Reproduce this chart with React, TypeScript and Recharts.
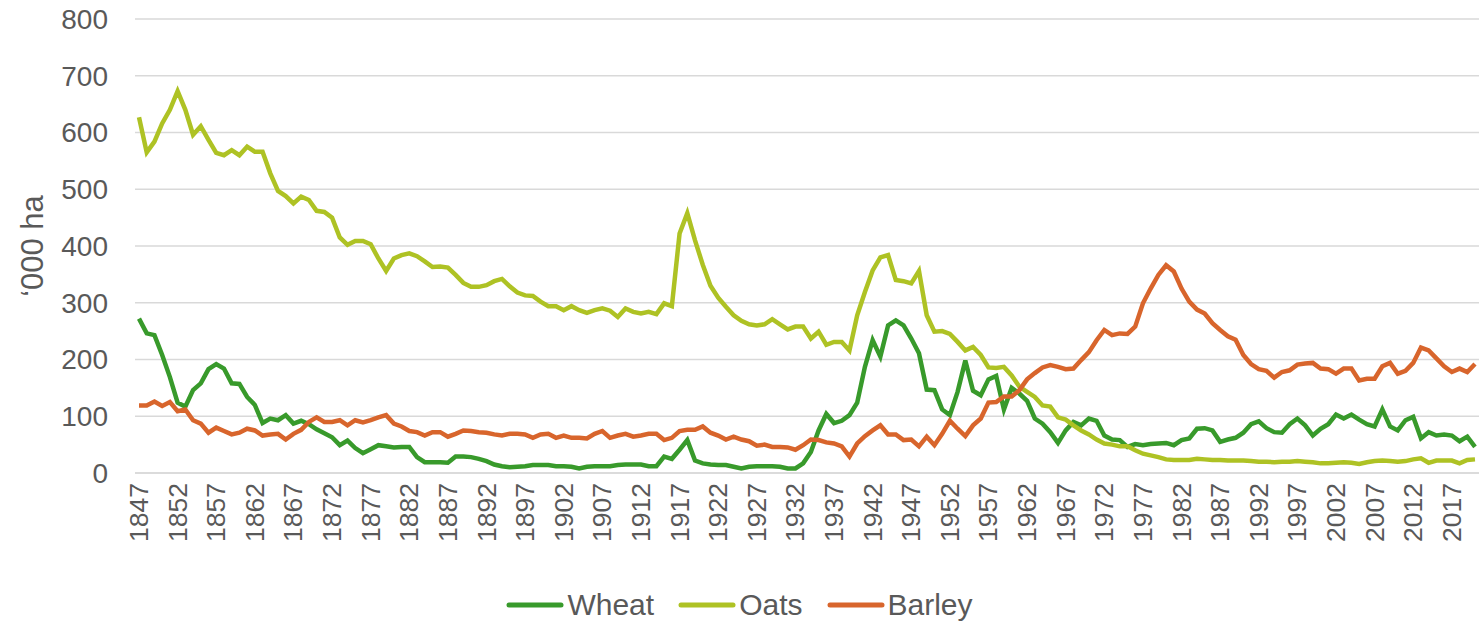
import React from 'react';
import { LineChart, Line, XAxis, YAxis, CartesianGrid } from 'recharts';

// Cropped area, '000 ha, one value per year from 1847 to 2020
const FIRST_YEAR = 1847;

const wheat = [
  272, 246, 243, 208, 169, 124, 117, 146, 158, 183, 192, 184, 158,
  157, 134, 120, 88, 96, 93, 102, 87, 92, 86,
  77, 70, 63, 49, 57, 44, 35, 42, 49, 47,
  45, 46, 46, 28, 19, 19, 19, 18, 29, 29,
  28, 25, 21, 15, 12, 10, 11, 12, 14, 14,
  14, 12, 12, 11, 8, 11, 12, 12, 12, 14,
  15, 15, 15, 12, 12, 29, 25, 41, 58, 22,
  17, 15, 14, 14, 11, 8, 11, 12, 12, 12,
  11, 8, 8, 17, 37, 75, 104, 88, 92, 102,
  124, 187, 234, 205, 260, 269, 260, 237, 211, 147,
  146, 112, 102, 143, 198, 145, 137, 165, 171, 112,
  150, 140, 127, 96, 87, 72, 53, 75, 90, 84,
  96, 92, 66, 59, 58, 46, 51, 49, 51, 52,
  53, 49, 58, 61, 78, 79, 75, 55, 59, 62,
  71, 86, 91, 79, 72, 71, 86, 96, 84, 66,
  78, 86, 103, 96, 103, 94, 86, 82, 112, 82,
  75, 93, 99, 61, 72, 66, 68, 66, 56, 64,
  46,
];

const oats = [
  627, 565, 584, 616, 640, 673, 640, 596, 611, 587, 564, 560, 569,
  560, 575, 566, 566, 528, 497, 488, 475, 487, 481,
  462, 460, 450, 415, 402, 409, 409, 403, 378, 356,
  378, 384, 387, 382, 373, 363, 364, 362, 349, 335,
  328, 328, 331, 338, 342, 329, 318, 313, 312, 302,
  294, 294, 287, 294, 287, 282, 287, 290, 286, 275,
  290, 284, 281, 284, 280, 299, 294, 422, 458, 410,
  367, 330, 309, 293, 278, 268, 262, 260, 262, 271,
  262, 253, 258, 258, 237, 249, 226, 231, 231, 216,
  278, 319, 357, 380, 384, 340, 338, 334, 356, 278,
  249, 250, 245, 231, 216, 222, 208, 186, 185, 187,
  172, 152, 143, 134, 119, 117, 98, 94, 84, 75,
  68, 59, 52, 50, 47, 47, 40, 34, 31, 28,
  24, 23, 23, 23, 25, 24, 23, 23, 22, 22,
  22, 21, 20, 20, 19, 20, 20, 21, 20, 19,
  17, 17, 18, 19, 18, 16, 19, 21, 22, 21,
  20, 21, 24, 26, 18, 22, 22, 22, 17, 23,
  24,
];

const barley = [
  119, 119, 126, 118, 125, 109, 112, 93, 87, 71, 80, 74, 68,
  71, 78, 75, 66, 68, 69, 59, 69, 76, 90,
  98, 90, 90, 93, 84, 93, 89, 93, 98, 102,
  87, 82, 74, 72, 66, 72, 72, 64, 69, 75,
  74, 72, 71, 68, 66, 69, 69, 68, 62, 68,
  69, 62, 66, 62, 62, 61, 69, 74, 62, 66,
  69, 64, 66, 69, 69, 58, 62, 74, 76, 76,
  82, 71, 66, 59, 64, 59, 56, 48, 50, 46,
  46, 45, 41, 49, 59, 58, 54, 52, 47, 29,
  52, 65, 75, 84, 68, 68, 58, 59, 47, 64,
  49, 69, 92, 78, 65, 84, 96, 124, 125, 135,
  135, 146, 165, 176, 186, 190, 187, 183, 184, 199,
  213, 234, 252, 243, 246, 245, 258, 299, 325, 349,
  366, 355, 325, 302, 288, 281, 264, 252, 241, 235,
  208, 192, 183, 180, 168, 178, 181, 191, 193, 194,
  184, 183, 175, 184, 184, 163, 166, 166, 188, 194,
  175, 180, 194, 221, 216, 202, 188, 178, 184, 178,
  192,
];

const years = wheat.map((_, i) => String(FIRST_YEAR + i));

const seriesList = [
  { key: 'Wheat', color: '#389a2b' },
  { key: 'Oats', color: '#aec224' },
  { key: 'Barley', color: '#d8652c' },
];

const yTicks = [0, 100, 200, 300, 400, 500, 600, 700, 800];

const chartData = years.map((year, i) => ({
  year,
  Wheat: wheat[i],
  Oats: oats[i],
  Barley: barley[i],
}));

const FONT = '"Liberation Sans", Arial, sans-serif';
const TEXT = '#595959';

const YearTick = (props: any) => {
  const { x, y, payload } = props;
  const ty = y + 10;
  return (
    <text
      x={x}
      y={ty}
      transform={`rotate(-90, ${x}, ${ty})`}
      textAnchor="end"
      dominantBaseline="central"
      fontSize={26.5}
      fill={TEXT}
      fontFamily={FONT}
    >
      {payload.value}
    </text>
  );
};

export default function App() {
  return (
    <div style={{ position: 'absolute', left: 0, top: 0, width: 1479, height: 623, background: '#fff', fontFamily: FONT }}>
      <LineChart width={1479} height={623} data={chartData} margin={{ top: 19, right: 0, bottom: 0, left: 0 }}>
        <CartesianGrid vertical={false} stroke="#d9d9d9" strokeWidth={1.5} />
        <XAxis
          dataKey="year"
          interval={4}
          tickLine={false}
          tickSize={0}
          tickMargin={0}
          axisLine={{ stroke: '#d9d9d9', strokeWidth: 1.5 }}
          height={150}
          padding={{ left: 4, right: 4 }}
          tick={<YearTick />}
        />
        <YAxis
          domain={[0, 800]}
          ticks={yTicks}
          width={135}
          tickLine={false}
          axisLine={false}
          tickSize={0}
          tickMargin={27}
          tick={{ fontSize: 28, fill: TEXT, fontFamily: FONT }}
          label={{
            value: '\u2018000 ha',
            angle: -90,
            position: 'insideLeft',
            offset: 32,
            style: { textAnchor: 'middle', fontSize: 31, fill: TEXT, fontFamily: FONT },
          }}
        />
        {seriesList.map((s) => (
          <Line
            key={s.key}
            type="linear"
            dataKey={s.key}
            stroke={s.color}
            strokeWidth={4.5}
            dot={false}
            isAnimationActive={false}
          />
        ))}
      </LineChart>
      <div
        style={{
          position: 'absolute',
          left: 0,
          top: 587,
          width: 1479,
          height: 36,
          display: 'flex',
          justifyContent: 'center',
          alignItems: 'center',
          gap: 24,
          fontSize: 30,
          lineHeight: '36px',
          color: TEXT,
        }}
      >
        {seriesList.map((s) => (
          <div key={s.key} style={{ display: 'flex', alignItems: 'center' }}>
            <svg width={58} height={10} style={{ marginRight: 3 }}>
              <line x1={3} y1={5} x2={55} y2={5} stroke={s.color} strokeWidth={5} strokeLinecap="round" />
            </svg>
            <span>{s.key}</span>
          </div>
        ))}
      </div>
    </div>
  );
}
